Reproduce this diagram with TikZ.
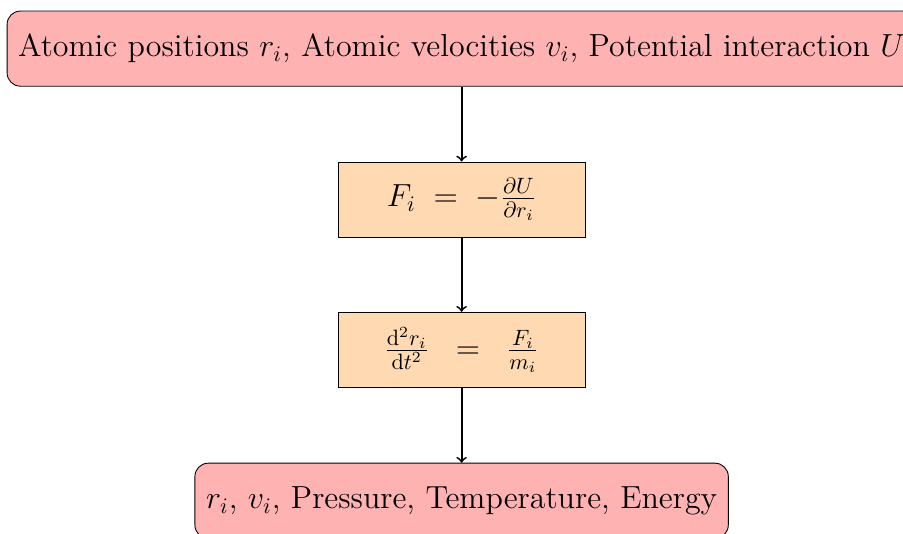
\documentclass[tikz,border=0pt]{standalone}
\usepackage{amsmath}
\tikzset{
  io/.style={draw, rounded corners=6pt, fill=red!30, font=\Large,
    minimum height=1.19cm, inner sep=5pt},
  process/.style={draw, fill=orange!30, font=\Large,
    minimum width=3.91cm, minimum height=1.19cm},
  flow/.style={thick, ->}
}
\begin{document}
\begin{tikzpicture}
  \useasboundingbox[clip] (0,0) rectangle (14.30,8.45);
  % input and output
  \node[io] (input) at (7.31,7.68)
    {Atomic positions $r_i$, Atomic velocities $v_i$, Potential interaction $U$};
  \node[io] (output) at (7.31,0.52)
    {$r_i$, $v_i$, Pressure, Temperature, Energy};
  % equations of motion
  \node[process] (force) at (7.31,5.29)
    {$F_i \;=\; -\frac{\partial U}{\partial r_i}$};
  \node[process] (newton) at (7.31,2.91)
    {$\frac{\mathrm{d}^2 r_i}{\mathrm{d}t^2} \;\;=\;\; \frac{F_i}{m_i}$};
  % arrows
  \draw[flow] (input) -- (force);
  \draw[flow] (force) -- (newton);
  \draw[flow] (newton) -- (output);
\end{tikzpicture}
\end{document}
